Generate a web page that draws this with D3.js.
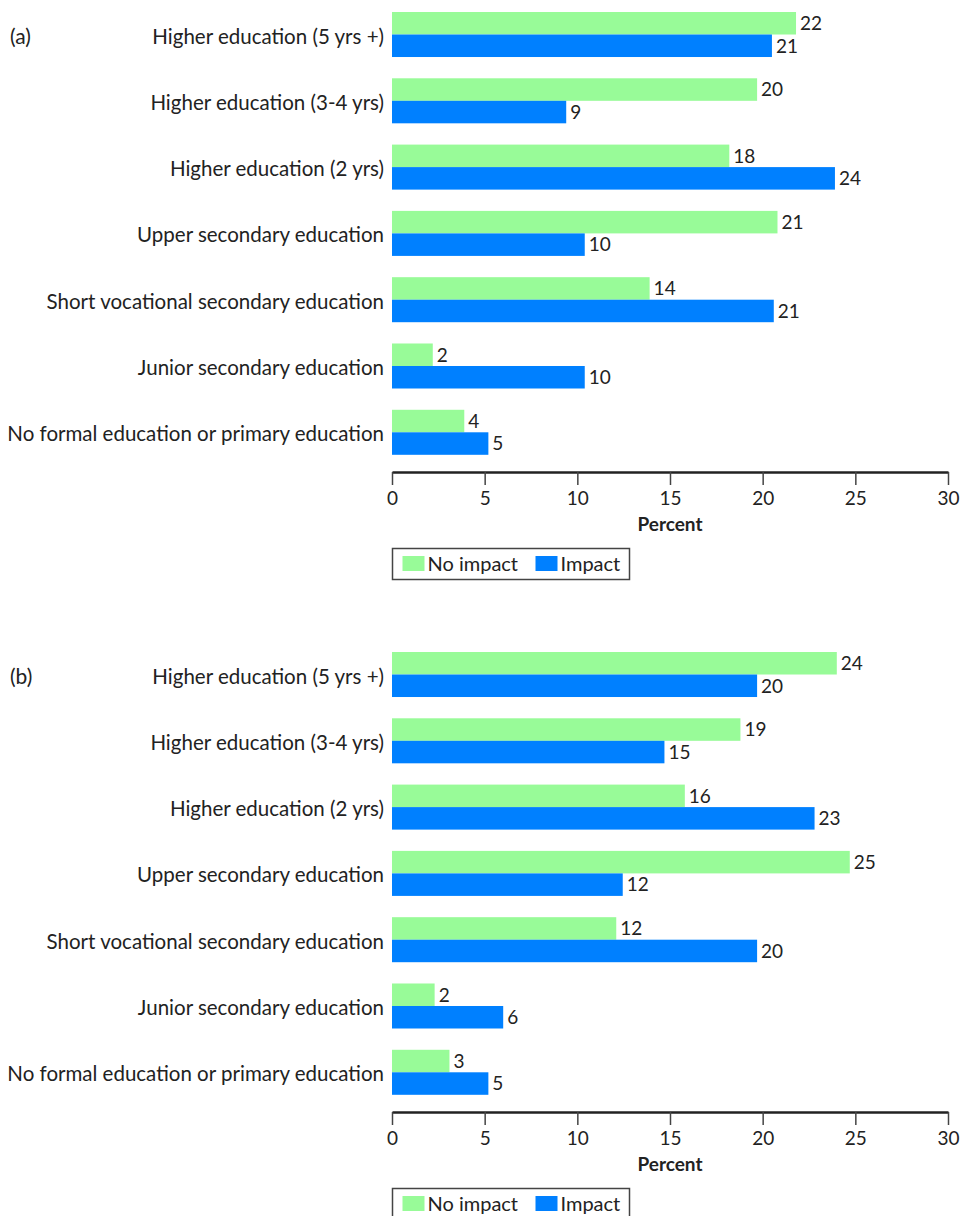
<!DOCTYPE html>
<html lang="en">
<head>
    <meta charset="UTF-8">
    <title>Impact by education</title>
    <script src="https://d3js.org/d3.v7.min.js"></script>
    <style>
        body{
            padding:0;
            margin:0;
            background:#fff;
        }
        #misvg{
            display:block;
        }
        text{
            font-family: Lato, "Noto Sans", sans-serif;
            fill:#222;
        }
    </style>
</head>
<body>

<svg id="misvg"></svg>

<script>
    // categories, top to bottom
    let categorias = [
        "Higher education (5 yrs +)",
        "Higher education (3-4 yrs)",
        "Higher education (2 yrs)",
        "Upper secondary education",
        "Short vocational secondary education",
        "Junior secondary education",
        "No formal education or primary education"
    ]
    let series = ["No impact", "Impact"]
    let colores = ["#98fb98", "#0080ff"]
    let ticksX = [0, 5, 10, 15, 20, 25, 30]

    // panel (a)
    let noImpactA = [21.8, 19.7, 18.2, 20.8, 13.9, 2.2, 3.9]
    let impactA = [20.5, 9.4, 23.9, 10.4, 20.6, 10.4, 5.2]
    let noImpactLblA = [22, 20, 18, 21, 14, 2, 4]
    let impactLblA = [21, 9, 24, 10, 21, 10, 5]

    // panel (b)
    let noImpactB = [24.0, 18.8, 15.8, 24.7, 12.1, 2.3, 3.1]
    let impactB = [19.7, 14.7, 22.8, 12.45, 19.7, 6.0, 5.2]
    let noImpactLblB = [24, 19, 16, 25, 12, 2, 3]
    let impactLblB = [20, 15, 23, 12, 20, 6, 5]

    let svgw = 960
    let svgh = 1216
    let izq = 392
    let der = 948

    let svg = d3.select("#misvg")
        .attr("width", svgw)
        .attr("height", svgh)

    let escalaX = d3.scaleLinear()
        .domain([0, 30])
        .range([izq, der])

    function hacerPanel(dy, tag, noImp, imp, noImpLbl, impLbl) {
        let g = svg.append("g").attr("transform", `translate(0,${dy})`)

        let escalaY = d3.scaleBand()
            .domain(categorias)
            .range([12, 454.8])
            .paddingInner(0.321)
            .paddingOuter(0)

        let escalaSerie = d3.scaleBand()
            .domain(series)
            .range([0, escalaY.bandwidth()])

        let filas = categorias.map((c, i) => ({
            cat: c,
            vals: [
                {s: series[0], v: noImp[i], lbl: noImpLbl[i]},
                {s: series[1], v: imp[i], lbl: impLbl[i]}
            ]
        }))

        let grupos = g.selectAll("g.fila")
            .data(filas)
            .enter().append("g")
            .attr("class", "fila")
            .attr("transform", d => `translate(0,${escalaY(d.cat)})`)

        grupos.selectAll("rect")
            .data(d => d.vals)
            .enter().append("rect")
            .attr("x", escalaX(0))
            .attr("y", d => escalaSerie(d.s))
            .attr("width", d => escalaX(d.v) - escalaX(0))
            .attr("height", escalaSerie.bandwidth())
            .attr("fill", (d, i) => colores[i])

        grupos.selectAll("text.valor")
            .data(d => d.vals)
            .enter().append("text")
            .attr("class", "valor")
            .attr("x", d => escalaX(d.v) + 4)
            .attr("y", d => escalaSerie(d.s) + escalaSerie.bandwidth() / 2)
            .attr("dy", "0.36em")
            .style("font-size", "19px")
            .text(d => d.lbl)

        // category labels
        g.selectAll("text.cat")
            .data(categorias)
            .enter().append("text")
            .attr("class", "cat")
            .attr("x", 384)
            .attr("y", d => escalaY(d) + escalaY.bandwidth() / 2)
            .attr("dy", "0.44em")
            .attr("text-anchor", "end")
            .style("font-size", "20.5px")
            .text(d => d)

        g.append("text")
            .attr("x", 10)
            .attr("y", escalaY(categorias[0]) + escalaY.bandwidth() / 2)
            .attr("dy", "0.44em")
            .style("font-size", "21px")
            .text(tag)

        // x axis
        let eje = g.append("g")
            .attr("transform", "translate(0,472)")
            .call(d3.axisBottom(escalaX)
                .tickValues(ticksX)
                .tickSize(13)
                .tickSizeOuter(0)
                .tickPadding(7))
        eje.select(".domain")
            .attr("stroke", "#222")
            .attr("stroke-width", 2.5)
        eje.selectAll(".tick line")
            .attr("stroke", "#444")
            .attr("stroke-width", 1.5)
        eje.selectAll(".tick text")
            .style("font-size", "19px")
            .style("font-family", "Lato, 'Noto Sans', sans-serif")
            .attr("fill", "#222")

        g.append("text")
            .attr("x", (izq + der) / 2)
            .attr("y", 531)
            .attr("text-anchor", "middle")
            .style("font-size", "19px")
            .style("font-weight", "bold")
            .text("Percent")

        // legend
        let ley = g.append("g").attr("transform", "translate(392.5,548.5)")
        ley.append("rect")
            .attr("width", 237)
            .attr("height", 31)
            .attr("fill", "none")
            .attr("stroke", "#444")
            .attr("stroke-width", 1.5)
        let posLey = [10, 143]
        series.forEach((s, i) => {
            ley.append("rect")
                .attr("x", posLey[i])
                .attr("y", 7.5)
                .attr("width", 22)
                .attr("height", 15)
                .attr("fill", colores[i])
            ley.append("text")
                .attr("x", posLey[i] + 25)
                .attr("y", 22)
                .style("font-size", "20px")
                .text(s)
        })
    }

    hacerPanel(0, "(a)", noImpactA, impactA, noImpactLblA, impactLblA)
    hacerPanel(640, "(b)", noImpactB, impactB, noImpactLblB, impactLblB)
</script>

</body>
</html>
